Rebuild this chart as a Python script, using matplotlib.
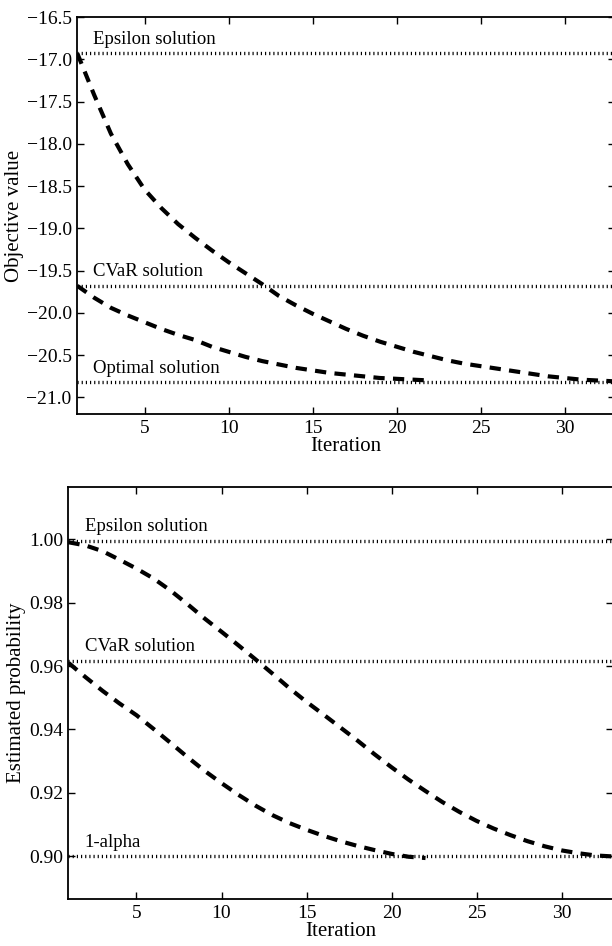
import matplotlib
matplotlib.use("Agg")
import matplotlib.pyplot as plt

plt.rcParams['font.family'] = ['Liberation Serif', 'DejaVu Serif']
plt.rcParams['font.size'] = 13
plt.rcParams['axes.linewidth'] = 1.3

# ---- data: top panel (objective value) ----
iter_a = list(range(1, 34))
obj_eps = [-16.93, -17.42, -17.88, -18.24, -18.54, -18.76, -18.95, -19.11, -19.26,
           -19.40, -19.53, -19.66, -19.80, -19.91, -20.01, -20.10, -20.19, -20.27,
           -20.34, -20.40, -20.46, -20.51, -20.56, -20.60, -20.63, -20.66, -20.69,
           -20.72, -20.75, -20.77, -20.79, -20.80, -20.81]
iter_b = list(range(1, 23))
obj_cvar = [-19.68, -19.82, -19.94, -20.03, -20.11, -20.19, -20.26, -20.32, -20.40,
            -20.46, -20.52, -20.57, -20.61, -20.65, -20.68, -20.71, -20.73, -20.75,
            -20.77, -20.78, -20.79, -20.80]
obj_refs = [-16.93, -19.68, -20.82]
obj_ref_labels = ["Epsilon solution", "CVaR solution", "Optimal solution"]
obj_yticks = [-16.5, -17.0, -17.5, -18.0, -18.5, -19.0, -19.5, -20.0, -20.5, -21.0]

# ---- data: bottom panel (estimated probability) ----
prob_eps = [0.9990, 0.9980, 0.9962, 0.9935, 0.9907, 0.9876, 0.9838, 0.9795, 0.9750,
            0.9708, 0.9665, 0.9621, 0.9576, 0.9530, 0.9487, 0.9447, 0.9406, 0.9365,
            0.9322, 0.9281, 0.9242, 0.9206, 0.9171, 0.9140, 0.9112, 0.9088, 0.9067,
            0.9048, 0.9032, 0.9019, 0.9010, 0.9003, 0.9000]
prob_cvar = [0.9610, 0.9565, 0.9522, 0.9482, 0.9445, 0.9402, 0.9358, 0.9313, 0.9270,
             0.9231, 0.9194, 0.9160, 0.9130, 0.9105, 0.9084, 0.9065, 0.9048, 0.9033,
             0.9020, 0.9008, 0.8999, 0.8995]
prob_refs = [0.9995, 0.9616, 0.9000]
prob_ref_labels = ["Epsilon solution", "CVaR solution", "1-alpha"]
prob_yticks = [0.90, 0.92, 0.94, 0.96, 0.98, 1.00]
prob_ytick_labels = ["0.90", "0.92", "0.94", "0.96", "0.98", "1.00"]
xticks = [5, 10, 15, 20, 25, 30]

fig = plt.figure(figsize=(6.12, 9.46), dpi=100)
ax1 = fig.add_axes([0.1263, 0.5620, 0.8790, 0.4200])
ax2 = fig.add_axes([0.1119, 0.0494, 0.8890, 0.4361])

dot_style = (0, (0.35, 0.9))
dash_style = (0, (2.7, 2.0))

def style(ax):
    ax.tick_params(direction='in', top=True, right=True, length=5, width=1.0,
                   labelsize=14, pad=4)
    ax.set_xticks(xticks)
    ax.set_xlim(1, 33)

# top
for y, lab in zip(obj_refs, obj_ref_labels):
    ax1.axhline(y, color='black', lw=2.4, linestyle=dot_style)
    ax1.annotate(lab, xy=(1.95, y), xytext=(0, 4), textcoords='offset points',
                 ha='left', va='bottom', fontsize=13.5)
ax1.plot(iter_a, obj_eps, color='black', lw=3.0, linestyle=dash_style)
ax1.plot(iter_b, obj_cvar, color='black', lw=3.0, linestyle=dash_style)
style(ax1)
ax1.set_ylim(-21.2, -16.5)
ax1.set_yticks(obj_yticks)
ax1.set_yticklabels([f"{v:.1f}".replace("-", "\u2212") for v in obj_yticks])
ax1.set_xlabel("Iteration", fontsize=15, labelpad=0)
ax1.set_ylabel("Objective value", fontsize=15, labelpad=2)

# bottom
for y, lab in zip(prob_refs, prob_ref_labels):
    ax2.axhline(y, color='black', lw=2.4, linestyle=dot_style)
    ax2.annotate(lab, xy=(1.95, y), xytext=(0, 4), textcoords='offset points',
                 ha='left', va='bottom', fontsize=13.5)
ax2.plot(iter_a, prob_eps, color='black', lw=3.0, linestyle=dash_style)
ax2.plot(iter_b, prob_cvar, color='black', lw=3.0, linestyle=dash_style)
style(ax2)
ax2.set_ylim(0.8865, 1.0165)
ax2.set_yticks(prob_yticks)
ax2.set_yticklabels(prob_ytick_labels)
ax2.set_xlabel("Iteration", fontsize=15, labelpad=0)
ax2.set_ylabel("Estimated probability", fontsize=15, labelpad=2)

fig.savefig("out.png", dpi=100)
